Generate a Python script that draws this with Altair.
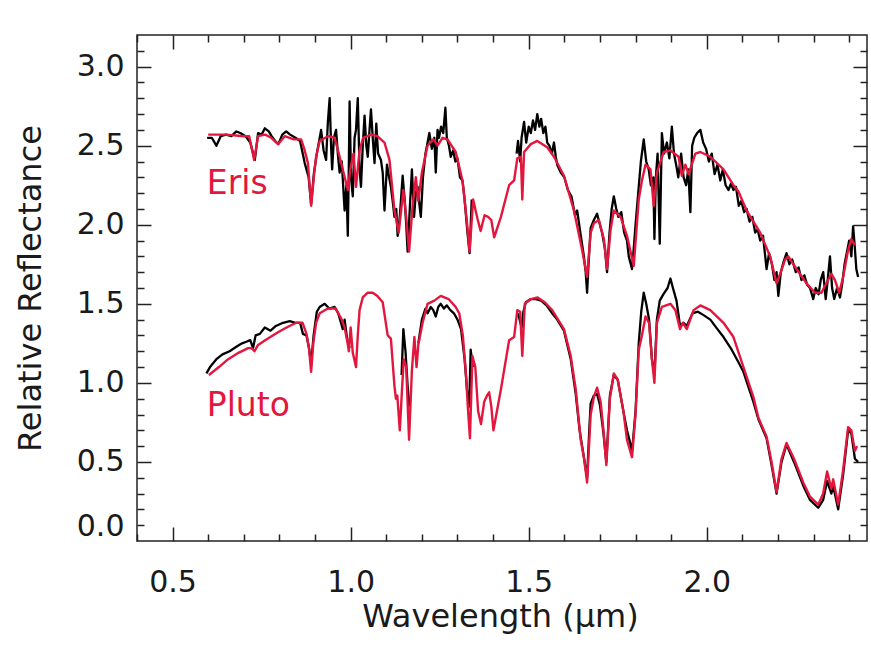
import altair as alt
import pandas as pd

# ---------------- data (wavelength in micron, relative reflectance) ----------------
ERIS_MODEL_WL = [0.600, 0.650, 0.700, 0.715, 0.729, 0.740, 0.760, 0.777, 0.796, 0.815, 0.840, 0.861,
                 0.871, 0.880, 0.889, 0.897, 0.903, 0.913, 0.936, 0.955, 0.969, 0.980, 0.992, 0.999,
                 1.008, 1.015, 1.025, 1.035, 1.057, 1.075, 1.095, 1.109, 1.123, 1.135, 1.148, 1.156,
                 1.164, 1.174, 1.183, 1.190, 1.200, 1.216, 1.232, 1.244, 1.258, 1.272, 1.295, 1.314,
                 1.326, 1.334, 1.344, 1.356, 1.365, 1.376, 1.386, 1.395, 1.403, 1.422, 1.445, 1.459,
                 1.468, 1.478, 1.482, 1.487, 1.506, 1.524, 1.552, 1.571, 1.599, 1.627, 1.650, 1.664,
                 1.674, 1.683, 1.697, 1.711, 1.720, 1.730, 1.739, 1.758, 1.776, 1.795, 1.809, 1.818,
                 1.828, 1.842, 1.851, 1.860, 1.879, 1.898, 1.921, 1.930, 1.940, 1.949, 1.968, 1.982,
                 2.010, 2.047, 2.075, 2.089, 2.112, 2.150, 2.178, 2.196, 2.208, 2.220, 2.229, 2.252,
                 2.280, 2.304, 2.322, 2.336, 2.350, 2.360, 2.372, 2.383, 2.397, 2.406, 2.416]
ERIS_MODEL_R = [2.57, 2.57, 2.56, 2.56, 2.41, 2.56, 2.57, 2.55, 2.51, 2.56, 2.54, 2.54,
                2.47, 2.39, 2.12, 2.31, 2.43, 2.53, 2.56, 2.55, 2.43, 2.33, 2.22, 2.35,
                2.45, 2.24, 2.47, 2.55, 2.57, 2.56, 2.52, 2.41, 2.09, 1.95, 2.22, 2.05,
                1.83, 2.12, 2.30, 2.15, 2.33, 2.50, 2.54, 2.50, 2.55, 2.54, 2.46, 2.28,
                2.03, 1.83, 2.16, 2.04, 1.96, 2.06, 2.05, 2.03, 1.92, 2.05, 2.25, 2.28,
                2.42, 2.43, 2.16, 2.46, 2.51, 2.53, 2.49, 2.43, 2.31, 2.09, 1.84, 1.67,
                1.95, 2.01, 2.03, 1.91, 1.72, 1.97, 2.09, 2.05, 1.93, 1.74, 2.16, 2.28,
                2.38, 2.35, 2.12, 2.33, 2.46, 2.47, 2.43, 2.31, 2.38, 2.32, 2.45, 2.46,
                2.43, 2.35, 2.25, 2.21, 2.09, 1.95, 1.80, 1.63, 1.70, 1.78, 1.80, 1.72,
                1.63, 1.57, 1.57, 1.63, 1.69, 1.65, 1.57, 1.67, 1.84, 1.91, 1.87]

ERIS_OBS1_WL = [0.597, 0.610, 0.623, 0.635, 0.650, 0.665, 0.679, 0.690, 0.705, 0.718, 0.731, 0.740,
                0.750, 0.759, 0.770, 0.778, 0.788, 0.797, 0.808, 0.819, 0.830, 0.845, 0.858, 0.871,
                0.882, 0.889, 0.897, 0.905, 0.917, 0.924, 0.931, 0.936, 0.941, 0.945, 0.948, 0.953,
                0.959, 0.964, 0.969, 0.975, 0.983, 0.988, 0.992, 0.995, 0.997, 1.001, 1.006, 1.011,
                1.015, 1.020, 1.025, 1.029, 1.034, 1.039, 1.044, 1.048, 1.053, 1.057, 1.062, 1.067,
                1.072, 1.077, 1.085, 1.090, 1.095, 1.102, 1.108, 1.113, 1.118, 1.123, 1.128, 1.132,
                1.138, 1.146, 1.152, 1.156, 1.160, 1.166, 1.172, 1.178, 1.183, 1.188, 1.192, 1.197,
                1.203, 1.210, 1.216, 1.221, 1.228, 1.235, 1.239, 1.244, 1.248, 1.254, 1.260, 1.266,
                1.270, 1.276, 1.281, 1.288, 1.294, 1.300, 1.307, 1.314, 1.320, 1.328, 1.334, 1.340]
ERIS_OBS1_R = [2.55, 2.55, 2.50, 2.56, 2.57, 2.56, 2.59, 2.58, 2.56, 2.52, 2.41, 2.58,
               2.57, 2.61, 2.59, 2.56, 2.53, 2.51, 2.57, 2.59, 2.57, 2.55, 2.53, 2.39,
               2.30, 2.13, 2.33, 2.45, 2.60, 2.47, 2.41, 2.65, 2.80, 2.50, 2.35, 2.55,
               2.60, 2.45, 2.33, 2.40, 2.09, 2.25, 1.93, 2.40, 2.78, 2.30, 2.18, 2.55,
               2.60, 2.80, 2.35, 2.24, 2.50, 2.69, 2.50, 2.43, 2.60, 2.73, 2.55, 2.39,
               2.64, 2.45, 2.41, 2.33, 2.09, 2.38, 2.30, 2.24, 2.15, 2.05, 2.10, 1.93,
               2.05, 2.31, 2.15, 2.00, 1.83, 2.10, 2.35, 2.05, 2.20, 2.24, 2.15, 2.05,
               2.30, 2.45, 2.52, 2.58, 2.48, 2.55, 2.33, 2.60, 2.55, 2.62, 2.58, 2.74,
               2.55, 2.50, 2.43, 2.47, 2.40, 2.42, 2.30, 2.28, 2.16, 1.95, 1.82, 2.16]

ERIS_OBS2_WL = [1.466, 1.470, 1.476, 1.480, 1.487, 1.493, 1.500, 1.506, 1.512, 1.518, 1.524, 1.530,
                1.535, 1.541, 1.547, 1.552, 1.558, 1.565, 1.571, 1.576, 1.580, 1.590, 1.600, 1.610,
                1.620, 1.630, 1.636, 1.645, 1.655, 1.660, 1.664, 1.668, 1.674, 1.683, 1.692, 1.700,
                1.706, 1.714, 1.720, 1.727, 1.733, 1.739, 1.746, 1.752, 1.760, 1.768, 1.776, 1.781,
                1.790, 1.795, 1.800, 1.809, 1.815, 1.823, 1.830, 1.837, 1.843, 1.850, 1.853, 1.857,
                1.862, 1.868, 1.874, 1.880, 1.888, 1.895, 1.902, 1.908, 1.914, 1.920, 1.928, 1.935,
                1.942, 1.948, 1.954, 1.959, 1.965, 1.973, 1.982, 1.990, 1.998, 2.006, 2.014, 2.022,
                2.030, 2.038, 2.045, 2.053, 2.061, 2.068, 2.075, 2.082, 2.090, 2.097, 2.105, 2.112,
                2.120, 2.128, 2.136, 2.143, 2.150, 2.158, 2.168, 2.175, 2.183, 2.190, 2.196, 2.201,
                2.208, 2.215, 2.224, 2.232, 2.240, 2.250, 2.258, 2.266, 2.274, 2.282, 2.290, 2.299,
                2.306, 2.314, 2.320, 2.327, 2.334, 2.340, 2.346, 2.352, 2.358, 2.366, 2.374, 2.380,
                2.387, 2.393, 2.400, 2.406, 2.411, 2.416, 2.420, 2.425]
ERIS_OBS2_R = [2.45, 2.53, 2.40, 2.55, 2.65, 2.52, 2.62, 2.58, 2.66, 2.60, 2.70, 2.62,
               2.67, 2.58, 2.62, 2.52, 2.50, 2.45, 2.52, 2.43, 2.38, 2.33, 2.30, 2.22,
               2.18, 2.06, 2.09, 1.95, 1.80, 1.70, 1.57, 1.75, 1.98, 2.03, 2.07, 2.00,
               1.95, 1.85, 1.70, 1.95, 2.10, 2.18, 2.10, 2.05, 2.08, 1.95, 1.90, 1.80,
               1.72, 1.85, 2.00, 2.24, 2.40, 2.54, 2.40, 2.35, 2.25, 2.30, 1.91, 2.30,
               2.45, 1.88, 2.58, 2.45, 2.52, 2.42, 2.62, 2.45, 2.38, 2.30, 2.45, 2.30,
               2.25, 2.35, 2.08, 2.50, 2.55, 2.58, 2.60, 2.52, 2.48, 2.40, 2.45, 2.32,
               2.38, 2.28, 2.35, 2.25, 2.22, 2.26, 2.22, 2.24, 2.12, 2.15, 2.08, 2.10,
               2.02, 2.05, 1.95, 1.97, 1.90, 1.93, 1.72, 1.82, 1.75, 1.65, 1.70, 1.55,
               1.70, 1.76, 1.82, 1.75, 1.78, 1.70, 1.73, 1.65, 1.68, 1.62, 1.60, 1.53,
               1.60, 1.56, 1.65, 1.70, 1.53, 1.66, 1.80, 1.60, 1.53, 1.60, 1.54, 1.62,
               1.75, 1.82, 1.90, 1.80, 1.99, 1.85, 1.72, 1.67]

PLUTO_MODEL_WL = [0.602, 0.630, 0.656, 0.685, 0.712, 0.722, 0.730, 0.740, 0.760, 0.796, 0.820, 0.847,
                  0.865, 0.876, 0.883, 0.889, 0.895, 0.903, 0.913, 0.936, 0.958, 0.975, 0.983, 0.990,
                  0.995, 1.000, 1.006, 1.015, 1.020, 1.025, 1.034, 1.048, 1.062, 1.075, 1.090, 1.104,
                  1.113, 1.119, 1.123, 1.127, 1.131, 1.138, 1.144, 1.149, 1.156, 1.164, 1.172, 1.179,
                  1.185, 1.190, 1.202, 1.216, 1.235, 1.253, 1.275, 1.295, 1.305, 1.315, 1.324, 1.329,
                  1.335, 1.342, 1.350, 1.358, 1.366, 1.375, 1.383, 1.389, 1.395, 1.401, 1.422, 1.445,
                  1.459, 1.468, 1.476, 1.482, 1.489, 1.506, 1.525, 1.545, 1.566, 1.580, 1.599, 1.618,
                  1.632, 1.646, 1.655, 1.664, 1.674, 1.683, 1.692, 1.702, 1.710, 1.718, 1.728, 1.739,
                  1.750, 1.766, 1.776, 1.790, 1.800, 1.809, 1.818, 1.828, 1.838, 1.846, 1.853, 1.860,
                  1.874, 1.898, 1.912, 1.925, 1.933, 1.944, 1.963, 1.982, 2.010, 2.047, 2.075, 2.103,
                  2.131, 2.145, 2.168, 2.182, 2.196, 2.210, 2.224, 2.245, 2.271, 2.290, 2.313, 2.327,
                  2.338, 2.350, 2.355, 2.369, 2.383, 2.397, 2.406, 2.416, 2.422]
PLUTO_MODEL_R = [1.05, 1.10, 1.15, 1.19, 1.22, 1.22, 1.20, 1.24, 1.27, 1.32, 1.35, 1.38,
                 1.38, 1.31, 1.22, 1.07, 1.25, 1.38, 1.44, 1.47, 1.47, 1.40, 1.35, 1.27,
                 1.20, 1.35, 1.19, 1.10, 1.30, 1.46, 1.54, 1.57, 1.57, 1.55, 1.51, 1.30,
                 1.28, 1.10, 0.98, 0.90, 0.92, 0.70, 0.95, 1.15, 1.10, 0.64, 1.08, 1.29,
                 1.10, 1.24, 1.38, 1.50, 1.52, 1.55, 1.53, 1.48, 1.44, 1.30, 1.05, 0.85,
                 0.65, 1.17, 1.10, 0.82, 0.74, 0.88, 0.92, 0.94, 0.85, 0.70, 0.96, 1.27,
                 1.29, 1.46, 1.45, 1.17, 1.50, 1.53, 1.54, 1.51, 1.46, 1.41, 1.34, 1.17,
                 0.96, 0.64, 0.53, 0.37, 0.80, 0.91, 0.97, 0.88, 0.70, 0.48, 0.90, 1.06,
                 1.02, 0.82, 0.64, 0.53, 0.80, 1.21, 1.30, 1.42, 1.38, 1.15, 1.00, 1.38,
                 1.48, 1.50, 1.46, 1.34, 1.38, 1.34, 1.46, 1.49, 1.46, 1.38, 1.29, 1.10,
                 0.91, 0.78, 0.66, 0.50, 0.31, 0.52, 0.62, 0.52, 0.37, 0.28, 0.23, 0.30,
                 0.44, 0.33, 0.39, 0.23, 0.45, 0.72, 0.70, 0.57, 0.60]

PLUTO_OBS1_WL = [0.595, 0.605, 0.623, 0.640, 0.660, 0.680, 0.695, 0.707, 0.718, 0.726, 0.733, 0.745,
                 0.759, 0.775, 0.790, 0.810, 0.829, 0.845, 0.858, 0.866, 0.876, 0.883, 0.889, 0.896,
                 0.905, 0.913, 0.927, 0.940, 0.955, 0.965, 0.978, 0.983, 0.990, 0.997]
PLUTO_OBS1_R = [1.06, 1.10, 1.15, 1.18, 1.20, 1.23, 1.25, 1.26, 1.27, 1.22, 1.30, 1.31,
                1.35, 1.33, 1.36, 1.38, 1.39, 1.38, 1.38, 1.31, 1.30, 1.22, 1.12, 1.30,
                1.45, 1.48, 1.50, 1.47, 1.48, 1.44, 1.34, 1.40, 1.28, 1.22]

PLUTO_OBS2_WL = [1.143, 1.148, 1.154, 1.160, 1.165]
PLUTO_OBS2_R = [1.05, 1.34, 1.20, 0.98, 0.85]

PLUTO_OBS3_WL = [1.190, 1.200, 1.210, 1.216, 1.225, 1.232, 1.239, 1.246, 1.253, 1.262, 1.270, 1.280,
                 1.290, 1.300, 1.310, 1.320, 1.327, 1.333, 1.337, 1.343]
PLUTO_OBS3_R = [1.25, 1.40, 1.47, 1.44, 1.48, 1.46, 1.42, 1.48, 1.50, 1.47, 1.49, 1.46,
                1.44, 1.40, 1.34, 1.15, 0.95, 0.85, 1.21, 1.10]

PLUTO_OBS4_WL = [1.470, 1.480, 1.485, 1.492, 1.506, 1.520, 1.535, 1.550, 1.566, 1.580, 1.599, 1.618,
                 1.632, 1.643, 1.650, 1.657, 1.664, 1.670, 1.674, 1.683, 1.692, 1.700, 1.710, 1.718,
                 1.728, 1.739, 1.750, 1.766, 1.776, 1.785, 1.790, 1.800, 1.809, 1.816, 1.823, 1.830,
                 1.838, 1.846, 1.853, 1.860, 1.868, 1.878, 1.890, 1.898, 1.905, 1.915, 1.925, 1.935,
                 1.944, 1.960, 1.975, 1.990, 2.010, 2.030, 2.047, 2.070, 2.089, 2.103, 2.131, 2.145,
                 2.168, 2.182, 2.196, 2.210, 2.224, 2.245, 2.271, 2.290, 2.313, 2.327, 2.338, 2.350,
                 2.355, 2.369, 2.383, 2.397, 2.406, 2.416, 2.425]
PLUTO_OBS4_R = [1.44, 1.35, 1.45, 1.51, 1.53, 1.53, 1.52, 1.49, 1.44, 1.40, 1.33, 1.15,
                0.93, 0.70, 0.60, 0.50, 0.40, 0.70, 0.87, 0.92, 0.93, 0.86, 0.68, 0.50,
                0.92, 1.05, 1.02, 0.82, 0.70, 0.62, 0.56, 0.82, 1.25, 1.45, 1.57, 1.50,
                1.40, 1.15, 1.05, 1.40, 1.52, 1.56, 1.60, 1.66, 1.60, 1.52, 1.36, 1.38,
                1.36, 1.44, 1.45, 1.43, 1.40, 1.34, 1.29, 1.21, 1.13, 1.07, 0.88, 0.77,
                0.65, 0.48, 0.30, 0.50, 0.61, 0.50, 0.35, 0.26, 0.21, 0.26, 0.38, 0.30,
                0.35, 0.20, 0.42, 0.70, 0.68, 0.52, 0.50]

LABEL_TEXT = ["Eris", "Pluto"]
LABEL_WL = [0.596, 0.596]
LABEL_R = [2.26, 0.855]

X_DOMAIN = [0.4, 2.45]
Y_DOMAIN = [0.0, 3.2]
X_LABELS = [0.5, 1.0, 1.5, 2.0]
Y_LABELS = [0.0, 0.5, 1.0, 1.5, 2.0, 2.5, 3.0]
X_TICKS = [round(0.4 + 0.1 * i, 1) for i in range(21)]
Y_TICKS = [round(0.1 * i, 1) for i in range(1, 32)]

# ---------------- tables ----------------
def seg(wl, r, name):
    return pd.DataFrame({"wl": wl, "r": r, "seg": name})

obs = pd.concat([
    seg(ERIS_OBS1_WL, ERIS_OBS1_R, "e1"),
    seg(ERIS_OBS2_WL, ERIS_OBS2_R, "e2"),
    seg(PLUTO_OBS1_WL, PLUTO_OBS1_R, "p1"),
    seg(PLUTO_OBS2_WL, PLUTO_OBS2_R, "p2"),
    seg(PLUTO_OBS3_WL, PLUTO_OBS3_R, "p3"),
    seg(PLUTO_OBS4_WL, PLUTO_OBS4_R, "p4"),
], ignore_index=True)
obs["order"] = range(len(obs))

model = pd.concat([
    seg(ERIS_MODEL_WL, ERIS_MODEL_R, "eris"),
    seg(PLUTO_MODEL_WL, PLUTO_MODEL_R, "pluto"),
], ignore_index=True)
model["order"] = range(len(model))

labels = pd.DataFrame({"wl": LABEL_WL, "r": LABEL_R, "text": LABEL_TEXT})

# ---------------- styling ----------------
W, H = 730, 506
FONT = "DejaVu Sans"
RED = "#e3163e"
INK = "#1a1a1a"
TICK = "#222222"
MAJOR = {"condition": {"test": "abs(datum.value * 2 - round(datum.value * 2)) < 0.001", "value": 14},
         "value": 7}

xs = alt.Scale(domain=X_DOMAIN, nice=False, zero=False)
ys = alt.Scale(domain=Y_DOMAIN, nice=False, zero=False)


def tick_axis(orient, offset, values):
    return alt.Axis(orient=orient, offset=offset, values=values, labels=False, domain=False,
                    grid=False, ticks=True, tickSize=MAJOR, tickColor=TICK, tickWidth=1.5,
                    title=None)


obs_layer = alt.Chart(obs).mark_line(color="black", strokeWidth=2.3, strokeJoin="round").encode(
    x=alt.X("wl:Q", scale=xs, axis=alt.Axis(
        orient="bottom", values=X_LABELS, format=".1f", ticks=False, domain=False, grid=False,
        labelPadding=26, labelFontSize=30, labelFont=FONT, labelColor=INK, labelFlush=False,
        title="Wavelength (μm)", titleFont=FONT, titleFontSize=32, titleFontWeight="normal",
        titleColor=INK, titleX=363, titleY=75, titleBaseline="middle", titleAlign="center")),
    y=alt.Y("r:Q", scale=ys, axis=alt.Axis(
        orient="left", values=Y_LABELS, format=".1f", ticks=False, domain=False, grid=False,
        labelPadding=13, labelFontSize=30, labelFont=FONT, labelColor=INK, labelFlush=True,
        title="Relative Reflectance", titleFont=FONT, titleFontSize=32, titleFontWeight="normal",
        titleColor=INK, titleX=-107, titleY=253, titleBaseline="middle", titleAlign="center",
        titleAngle=270)),
    detail="seg:N",
    order="order:Q",
)

model_layer = alt.Chart(model).mark_line(color=RED, strokeWidth=2.4, strokeJoin="round").encode(
    x=alt.X("wl:Q", scale=xs, axis=tick_axis("top", -H, X_TICKS)),
    y=alt.Y("r:Q", scale=ys, axis=tick_axis("right", -W, Y_TICKS)),
    detail="seg:N",
    order="order:Q",
)

text_layer = alt.Chart(labels).mark_text(
    align="left", baseline="middle", font=FONT, fontSize=33, color=RED
).encode(
    x=alt.X("wl:Q", scale=xs, axis=tick_axis("bottom", -H, X_TICKS)),
    y=alt.Y("r:Q", scale=ys, axis=tick_axis("left", -W, Y_TICKS)),
    text="text:N",
)

chart = alt.layer(obs_layer, model_layer, text_layer).resolve_axis(
    x="independent", y="independent"
).properties(
    width=W, height=H,
    autosize=alt.AutoSizeParams(type="none"),
    padding={"left": 137, "top": 35, "right": 4, "bottom": 122},
    background="white",
).configure_view(stroke="#222222", strokeWidth=1.5)

chart.save("out.html", embed_options={"renderer": "svg", "actions": False})
